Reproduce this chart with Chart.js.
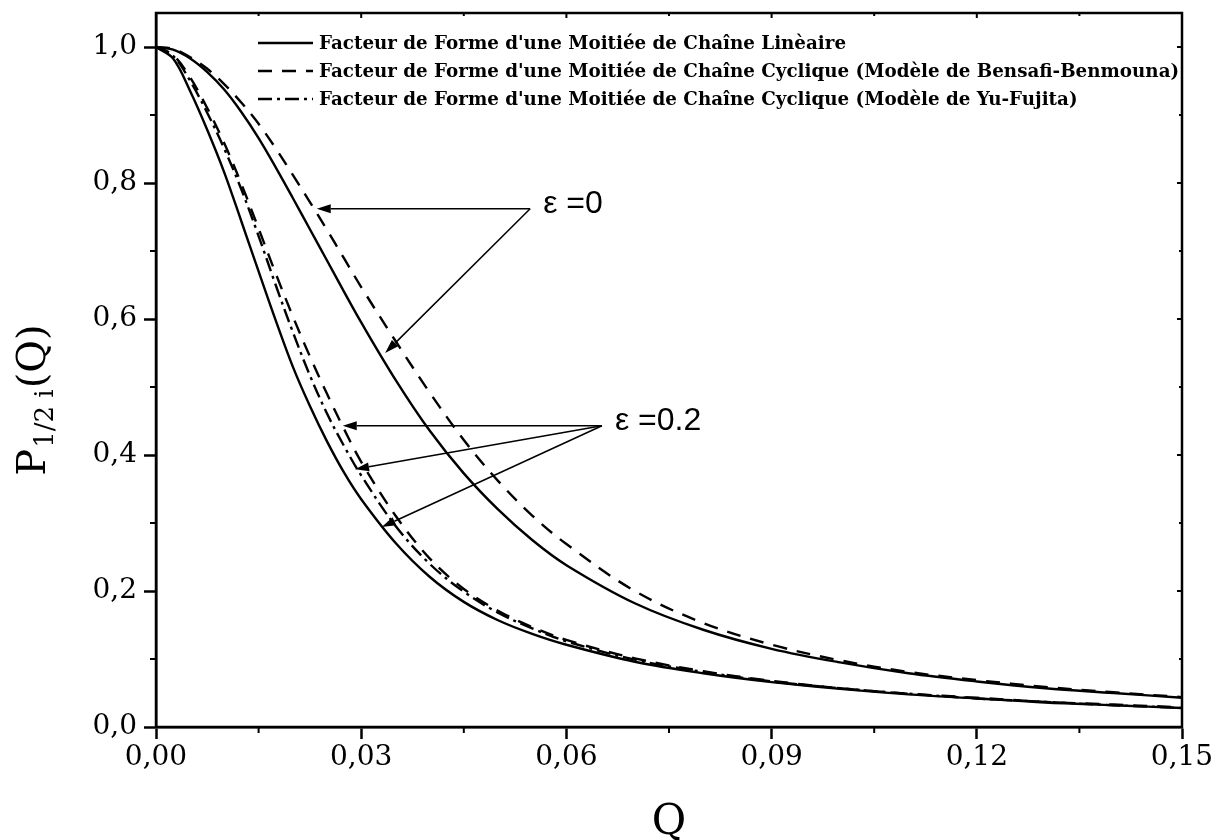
<!DOCTYPE html>
<html>
<head>
<meta charset="utf-8">
<script src="https://cdn.jsdelivr.net/npm/chart.js@4.4.1/dist/chart.umd.min.js"></script>
<style>
  html, body { margin: 0; padding: 0; background: #fff; }
  #wrap { width: 1216px; height: 840px; }
</style>
</head>
<body>
<div id="wrap"><canvas id="facteurForme" width="1216" height="840"></canvas></div>
<script>
'use strict'

// abscisse Q
var qValues = [0, 0.0025, 0.005, 0.0075, 0.01, 0.0125, 0.015, 0.0175, 0.02, 0.0225, 0.025, 0.0275, 0.03,
    0.035, 0.04, 0.045, 0.05, 0.055, 0.06, 0.07, 0.08, 0.09, 0.10, 0.11, 0.12, 0.13, 0.14, 0.15];

// epsilon = 0
var lineaireEps0 = [1.000, 0.996, 0.983, 0.963, 0.937, 0.904, 0.866, 0.823, 0.778, 0.732, 0.686, 0.640, 0.595,
    0.511, 0.436, 0.373, 0.320, 0.275, 0.238, 0.182, 0.143, 0.115, 0.095, 0.079, 0.067, 0.057, 0.050, 0.043];
var bensafiEps0 = [1.000, 0.997, 0.985, 0.968, 0.945, 0.918, 0.887, 0.851, 0.812, 0.772, 0.731, 0.689, 0.647,
    0.568, 0.492, 0.422, 0.362, 0.311, 0.269, 0.200, 0.153, 0.121, 0.098, 0.081, 0.069, 0.059, 0.051, 0.044];

// epsilon = 0.2
var lineaireEps02 = [1.000, 0.983, 0.935, 0.878, 0.815, 0.743, 0.670, 0.598, 0.530, 0.472, 0.420, 0.374, 0.335,
    0.271, 0.221, 0.184, 0.157, 0.137, 0.121, 0.096, 0.079, 0.066, 0.056, 0.048, 0.042, 0.036, 0.032, 0.028];
var bensafiEps02 = [1.000, 0.988, 0.955, 0.910, 0.858, 0.798, 0.733, 0.667, 0.604, 0.545, 0.490, 0.438, 0.390,
    0.311, 0.248, 0.203, 0.171, 0.147, 0.128, 0.101, 0.082, 0.068, 0.057, 0.049, 0.043, 0.037, 0.033, 0.029];
var yuFujitaEps02 = [1.000, 0.987, 0.950, 0.903, 0.850, 0.790, 0.722, 0.650, 0.581, 0.517, 0.461, 0.413, 0.370,
    0.296, 0.240, 0.199, 0.168, 0.145, 0.126, 0.099, 0.081, 0.067, 0.057, 0.049, 0.042, 0.037, 0.032, 0.028];

// graduations
var xTicks = [0, 0.03, 0.06, 0.09, 0.12, 0.15];
var yTicks = [0, 0.2, 0.4, 0.6, 0.8, 1.0];

var legendLabels = [
    "Facteur de Forme d'une Moitiée de Chaîne Linèaire",
    "Facteur de Forme d'une Moitiée de Chaîne Cyclique (Modèle de Bensafi-Benmouna)",
    "Facteur de Forme d'une Moitiée de Chaîne Cyclique (Modèle de Yu-Fujita)"
];

// annotations epsilon : texte, départ des flèches et pointes (en Q, P)
var epsTexts = ['ε =0', 'ε =0.2'];
var epsOrigins = [[0.0547, 0.762], [0.0652, 0.443]];
var epsTips = [
    [[0.0235, 0.762], [0.0335, 0.550]],
    [[0.0273, 0.443], [0.0291, 0.379], [0.0330, 0.294]]
];

var SOLID = [];
var DASH = [14, 10];
var DASHDOT = [14, 5, 3, 5];
var LINE_W = 2.4;

function createSerie(label, values, dash) {
    return {
        label: label,
        data: qValues.map(function (q, i) { return { x: q, y: values[i] }; }),
        borderColor: '#000',
        borderWidth: LINE_W,
        borderDash: dash,
        pointRadius: 0,
        fill: false,
        tension: 0.35
    };
}

function fmt(v, d) {
    return v.toFixed(d).replace('.', ',');
}

// petites graduations, cadre, légende, titres et flèches
var decorPlugin = {
    id: 'decor',
    afterDraw: function (chart) {
        var ctx = chart.ctx;
        var area = chart.chartArea;
        var xs = chart.scales.x;
        var ys = chart.scales.y;
        ctx.save();

        // cadre
        ctx.strokeStyle = '#000';
        ctx.lineWidth = 2.5;
        ctx.setLineDash([]);
        ctx.strokeRect(area.left, area.top, area.right - area.left, area.bottom - area.top);

        // graduations mineures
        ctx.lineWidth = 2;
        ctx.beginPath();
        for (var i = 0; i < xTicks.length - 1; i++) {
            var xm = xs.getPixelForValue((xTicks[i] + xTicks[i + 1]) / 2);
            ctx.moveTo(xm, area.bottom);
            ctx.lineTo(xm, area.bottom + 6);
            ctx.moveTo(xm, area.top);
            ctx.lineTo(xm, area.top + 3);
        }
        for (var j = 0; j < yTicks.length - 1; j++) {
            var ym = ys.getPixelForValue((yTicks[j] + yTicks[j + 1]) / 2);
            ctx.moveTo(area.left, ym);
            ctx.lineTo(area.left - 6, ym);
            ctx.moveTo(area.right, ym);
            ctx.lineTo(area.right - 3, ym);
        }
        xTicks.forEach(function (v) {
            var xp = xs.getPixelForValue(v);
            ctx.moveTo(xp, area.top);
            ctx.lineTo(xp, area.top + 5);
        });
        yTicks.forEach(function (v) {
            var yp = ys.getPixelForValue(v);
            ctx.moveTo(area.right, yp);
            ctx.lineTo(area.right - 5, yp);
        });
        ctx.stroke();

        // légende
        var dashes = [SOLID, DASH, DASHDOT];
        ctx.font = 'bold 18.3px "DejaVu Serif"';
        ctx.textBaseline = 'middle';
        ctx.textAlign = 'left';
        ctx.fillStyle = '#000';
        for (var k = 0; k < legendLabels.length; k++) {
            var ly = area.top + 30 + k * 28;
            ctx.lineWidth = LINE_W;
            ctx.setLineDash(dashes[k]);
            ctx.beginPath();
            ctx.moveTo(area.left + 102, ly);
            ctx.lineTo(area.left + 157, ly);
            ctx.stroke();
            ctx.fillText(legendLabels[k], area.left + 163, ly + 1);
        }
        ctx.setLineDash([]);

        // flèches epsilon
        ctx.lineWidth = 1.5;
        for (var a = 0; a < epsTexts.length; a++) {
            var ox = xs.getPixelForValue(epsOrigins[a][0]);
            var oy = ys.getPixelForValue(epsOrigins[a][1]);
            epsTips[a].forEach(function (t) {
                var tx = xs.getPixelForValue(t[0]);
                var ty = ys.getPixelForValue(t[1]);
                var ang = Math.atan2(ty - oy, tx - ox);
                var hl = 14, hw = 4.5;
                var bx = tx - hl * Math.cos(ang), by = ty - hl * Math.sin(ang);
                ctx.beginPath();
                ctx.moveTo(ox, oy);
                ctx.lineTo(bx, by);
                ctx.stroke();
                ctx.beginPath();
                ctx.moveTo(tx, ty);
                ctx.lineTo(bx + hw * Math.sin(ang), by - hw * Math.cos(ang));
                ctx.lineTo(bx - hw * Math.sin(ang), by + hw * Math.cos(ang));
                ctx.closePath();
                ctx.fill();
            });
            ctx.font = '32px "Liberation Sans"';
            ctx.textBaseline = 'middle';
            ctx.fillText(epsTexts[a], ox + 13, oy - 5);
        }

        // titre de l'axe x
        ctx.font = '42px "DejaVu Serif"';
        ctx.textAlign = 'center';
        ctx.textBaseline = 'alphabetic';
        ctx.fillText('Q', (area.left + area.right) / 2, 834);

        // titre de l'axe y : P avec indice 1/2 i
        var big = '40px "DejaVu Serif"';
        var small = '26px "DejaVu Serif"';
        ctx.font = big;
        var wP = ctx.measureText('P').width;
        var wQ = ctx.measureText('(Q)').width;
        ctx.font = small;
        var wS = ctx.measureText('1/2 i').width;
        var total = wP + wS + wQ + 2;
        ctx.translate(45, (area.top + area.bottom) / 2 + 30);
        ctx.rotate(-Math.PI / 2);
        ctx.textAlign = 'left';
        ctx.font = big;
        ctx.fillText('P', -total / 2, 0);
        ctx.font = small;
        ctx.fillText('1/2 i', -total / 2 + wP + 1, 8);
        ctx.font = big;
        ctx.fillText('(Q)', -total / 2 + wP + wS + 2, 0);

        ctx.restore();
    }
};

window.onload = function () {
    var ctx = document.getElementById('facteurForme');
    new Chart(ctx, {
        type: 'line',
        data: {
            datasets: [
                createSerie(legendLabels[0], lineaireEps0, SOLID),
                createSerie(legendLabels[1], bensafiEps0, DASH),
                createSerie(legendLabels[0], lineaireEps02, SOLID),
                createSerie(legendLabels[1], bensafiEps02, DASH),
                createSerie(legendLabels[2], yuFujitaEps02, DASHDOT)
            ]
        },
        options: {
            responsive: false,
            devicePixelRatio: 1,
            animation: false,
            layout: { padding: { top: 13, right: 34, left: 0, bottom: 0 } },
            plugins: {
                legend: { display: false },
                tooltip: { enabled: false }
            },
            scales: {
                x: {
                    type: 'linear',
                    min: 0,
                    max: 0.15,
                    afterFit: function (s) { s.height = 113; s.paddingLeft = 0; s.paddingRight = 0; },
                    afterBuildTicks: function (s) { s.ticks = xTicks.map(function (v) { return { value: v }; }); },
                    border: { display: true, color: '#000', width: 2.5 },
                    grid: { display: true, drawOnChartArea: false, tickLength: 12, tickColor: '#000', tickWidth: 2.5 },
                    ticks: {
                        color: '#000',
                        padding: 2,
                        maxRotation: 0,
                        font: { family: 'DejaVu Serif', size: 28 },
                        callback: function (v) { return fmt(v, 2); }
                    }
                },
                y: {
                    type: 'linear',
                    min: 0,
                    max: 1.05,
                    afterFit: function (s) { s.width = 156; s.paddingTop = 0; s.paddingBottom = 0; },
                    afterBuildTicks: function (s) { s.ticks = yTicks.map(function (v) { return { value: v }; }); },
                    border: { display: true, color: '#000', width: 2.5 },
                    grid: { display: true, drawOnChartArea: false, tickLength: 12, tickColor: '#000', tickWidth: 2.5 },
                    ticks: {
                        color: '#000',
                        padding: 7,
                        font: { family: 'DejaVu Serif', size: 28 },
                        callback: function (v) { return fmt(v, 1); }
                    }
                }
            }
        },
        plugins: [decorPlugin]
    });
};
</script>
</body>
</html>
